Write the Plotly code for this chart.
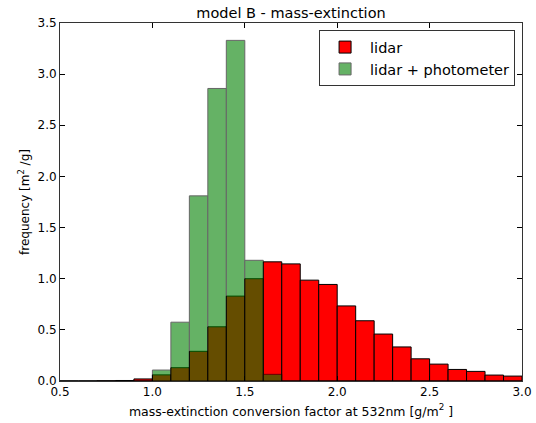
import plotly.graph_objects as go

bin_left = [0.5, 0.6, 0.7, 0.8, 0.9, 1.0, 1.1, 1.2, 1.3, 1.4, 1.5, 1.6, 1.7, 1.8, 1.9,
            2.0, 2.1, 2.2, 2.3, 2.4, 2.5, 2.6, 2.7, 2.8, 2.9]
lidar = [0.0, 0.0, 0.002, 0.005, 0.02, 0.06, 0.13, 0.29, 0.53, 0.83, 1.0, 1.165, 1.145, 0.986, 0.944,
         0.734, 0.589, 0.459, 0.333, 0.217, 0.165, 0.113, 0.094, 0.058, 0.048]
lidar_phot = [0.0, 0.0, 0.0, 0.0, 0.0, 0.107, 0.575, 1.81, 2.86, 3.33, 1.18, 0.065, 0.0, 0.0, 0.0,
              0.0, 0.0, 0.0, 0.0, 0.0, 0.0, 0.0, 0.0, 0.0, 0.0]
bin_width = 0.1
centers = [b + bin_width / 2 for b in bin_left]

fig = go.Figure()
fig.add_trace(go.Bar(x=centers, y=lidar, width=bin_width, name="lidar",
                     marker=dict(color="#ff0000", line=dict(color="black", width=1))))
fig.add_trace(go.Bar(x=centers, y=lidar_phot, width=bin_width, name="lidar + photometer",
                     opacity=0.6,
                     marker=dict(color="#008000", line=dict(color="black", width=1))))

font = dict(family="DejaVu Sans", size=12, color="black")
fig.update_layout(
    width=536, height=423,
    margin=dict(l=60, r=14, t=23, b=42, autoexpand=False),
    barmode="overlay",
    plot_bgcolor="white", paper_bgcolor="white",
    font=font,
    title=dict(text="model B - mass-extinction", x=0.5, xref="paper", xanchor="center",
               y=(423 - 12.5) / 423, yref="container", yanchor="middle",
               font=dict(size=14.5, color="black")),
    legend=dict(x=0.985, y=0.98, xanchor="right", yanchor="top",
                bordercolor="#333333", borderwidth=1, bgcolor="white",
                font=dict(size=14.5), tracegroupgap=0, itemwidth=40),
    xaxis=dict(range=[0.5, 3.0], tickvals=[0.5, 1.0, 1.5, 2.0, 2.5, 3.0],
               ticktext=["0.5", "1.0", "1.5", "2.0", "2.5", "3.0"],
               ticks="inside", ticklen=5, tickcolor="black", tickfont=dict(size=12),
               showline=True, linecolor="#333333", linewidth=1, mirror="ticks",
               showgrid=False, zeroline=False, automargin=False,
               title=dict(text="mass-extinction conversion factor at 532nm [g/m<sup>2</sup> ]",
                          standoff=8, font=dict(size=12.5))),
    yaxis=dict(range=[0, 3.5], tickvals=[0, 0.5, 1.0, 1.5, 2.0, 2.5, 3.0, 3.5],
               ticktext=["0.0", "0.5", "1.0", "1.5", "2.0", "2.5", "3.0", "3.5"],
               ticks="inside", ticklen=5, tickcolor="black", tickfont=dict(size=12),
               showline=True, linecolor="#333333", linewidth=1, mirror="ticks",
               showgrid=False, zeroline=False, automargin=False,
               title=dict(text="frequency [m<sup>2</sup> /g]", standoff=5, font=dict(size=12))),
)

fig.write_html("out.html", config={"displayModeBar": False},
               post_script="document.body.style.margin='0';")
